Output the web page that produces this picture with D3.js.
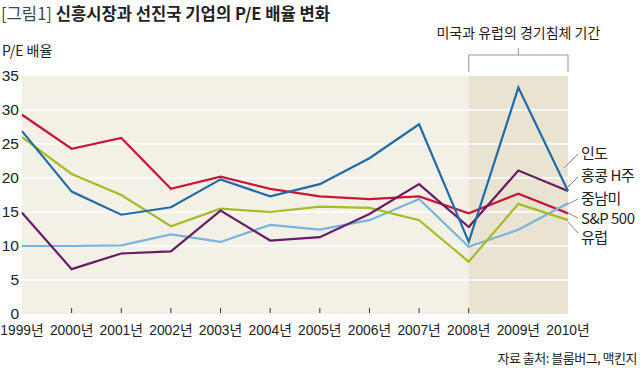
<!DOCTYPE html>
<html><head><meta charset="utf-8">
<script src="https://cdn.jsdelivr.net/npm/d3@7"></script>
<style>
html,body{margin:0;padding:0;background:#fff;}
svg{display:block;}
text{font-family:"Noto Sans CJK KR","Noto Sans",sans-serif;}
.num{font-family:"Liberation Sans Narrow","Liberation Sans","Noto Sans CJK KR",sans-serif;}
</style></head>
<body><svg id="c" width="640" height="368"></svg>
<script>
const years = ["1999년","2000년","2001년","2002년","2003년","2004년","2005년","2006년","2007년","2008년","2009년","2010년"];
const india   = [26.9,18.0,14.6,15.7,19.8,17.3,19.1,22.9,27.9,10.6,33.3,18.1];
const hk      = [14.9,6.6,8.9,9.2,15.2,10.8,11.3,14.7,19.1,12.8,21.1,18.1];
const latam   = [10.0,10.0,10.1,11.7,10.6,13.1,12.4,13.8,16.9,9.9,12.4,16.3];
const sp500   = [29.3,24.3,25.9,18.4,20.2,18.4,17.3,16.9,17.3,14.8,17.7,14.8];
const europe  = [26.0,20.6,17.5,12.9,15.5,15.0,15.8,15.6,13.8,7.7,16.2,13.8];
const seriesNames = ["인도","홍콩 H주","중남미","S&P 500","유럽"];
const yTicks = [0,5,10,15,20,25,30,35];
const recession = ["2008년","2010년"];

const series = [
  {name:seriesNames[3], values:sp500,  color:"#c8163a"},
  {name:seriesNames[2], values:latam,  color:"#7ab3df"},
  {name:seriesNames[4], values:europe, color:"#a6bb24"},
  {name:seriesNames[1], values:hk,     color:"#6a1a66"},
  {name:seriesNames[0], values:india,  color:"#1e6ca8"}
];

const svg = d3.select("#c");
const x = d3.scalePoint().domain(years).range([22,568]);
const y = d3.scaleLinear().domain([0,35]).range([314,76]);

// title
const t = svg.append("text").attr("x",1).attr("y",20).attr("font-size",16.6).attr("fill","#222");
t.append("tspan").attr("font-weight",400).attr("fill","#444").text("[그림1] ");
t.append("tspan").attr("font-weight",700).text("신흥시장과 선진국 기업의 P/E 배율 변화");

svg.append("text").attr("x",2).attr("y",56).attr("font-size",14).attr("fill","#222").text("P/E 배율");

// plot bg
svg.append("rect").attr("x",x(years[0])).attr("y",y(35)).attr("width",x(years[11])-x(years[0])).attr("height",y(0)-y(35)).attr("fill","#f3f0e6");
svg.append("rect").attr("x",x(recession[0])).attr("y",y(35)).attr("width",x(recession[1])-x(recession[0])).attr("height",y(0)-y(35)).attr("fill","#e9e4d2");

// gridlines
svg.append("g").selectAll("line").data(yTicks.filter(d=>d>0&&d<35)).join("line")
  .attr("x1",x(years[0])).attr("x2",x(years[11]))
  .attr("y1",d=>y(d)).attr("y2",d=>y(d))
  .attr("stroke","#fff").attr("stroke-width",1.6);

// y labels
svg.append("g").selectAll("text").data(yTicks).join("text")
  .attr("class","num")
  .attr("x",19).attr("y",d=>y(d)+4.5).attr("text-anchor","end")
  .attr("font-size",15.5).attr("fill","#222")
  .text(d=>d);

// x ticks
svg.append("g").selectAll("line").data(years.slice(1,10)).join("line")
  .attr("x1",d=>x(d)).attr("x2",d=>x(d)).attr("y1",308).attr("y2",313)
  .attr("stroke","#333").attr("stroke-width",1);
svg.append("g").selectAll("text").data(years).join("text")
  .attr("class","num")
  .attr("x",d=>x(d)).attr("y",335).attr("text-anchor","middle")
  .attr("font-size",13.8).attr("fill","#222")
  .text(d=>d);

// bracket
const bx0 = x(recession[0]), bx1 = x(recession[1]), bm=(bx0+bx1)/2;
svg.append("path").attr("d",`M${bx0},72V55H${bx1}V72M${bm},55V48`)
  .attr("fill","none").attr("stroke","#999").attr("stroke-width",1);
svg.append("text").attr("x",bm).attr("y",38).attr("text-anchor","middle")
  .attr("font-size",14).attr("fill","#222").text("미국과 유럽의 경기침체 기간");

// lines
const line = d3.line().x((d,i)=>x(years[i])).y(d=>y(d));
svg.append("g").selectAll("path").data(series).join("path")
  .attr("d",d=>line(d.values)).attr("fill","none")
  .attr("stroke",d=>d.color).attr("stroke-width",2.2).attr("stroke-linejoin","miter");

// labels
const labels = [
  {name:seriesNames[0], ty:154, p:[578,154,564,168]},
  {name:seriesNames[1], ty:176, p:[578,177,567,188]},
  {name:seriesNames[2], ty:199, p:[578,199,568,204]},
  {name:seriesNames[3], ty:219, p:[578,218,568,213]},
  {name:seriesNames[4], ty:238, p:[578,233,568,222]}
];
svg.append("g").selectAll("line").data(labels).join("line")
  .attr("x1",d=>d.p[0]).attr("y1",d=>d.p[1]).attr("x2",d=>d.p[2]).attr("y2",d=>d.p[3])
  .attr("stroke","#888").attr("stroke-width",1);
svg.append("g").selectAll("text").data(labels).join("text")
  .attr("x",581).attr("y",d=>d.ty+5).attr("font-size",15).attr("fill","#222").attr("letter-spacing",-0.5)
  .text(d=>d.name);

svg.append("text").attr("x",637).attr("y",363).attr("text-anchor","end")
  .attr("font-size",13).attr("fill","#222").attr("letter-spacing",-0.5).text("자료 출처: 블룸버그, 맥킨지");
</script></body></html>
